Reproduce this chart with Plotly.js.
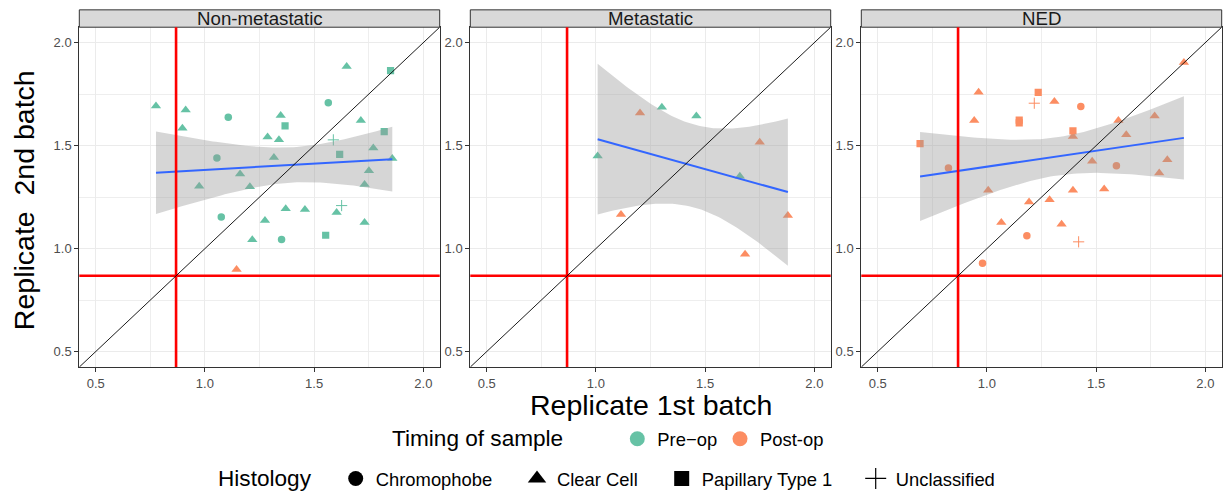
<!DOCTYPE html>
<html>
<head>
<meta charset="utf-8">
<script src="https://cdn.plot.ly/plotly-3.0.1.min.js"></script>
<style>html,body{margin:0;padding:0;background:#ffffff;}</style>
</head>
<body>
<div id="chart" style="width:1224px;height:497px;"></div>
<script>
// ---------------- data ----------------
const panelNames = ["Non-metastatic", "Metastatic", "NED"];
const timingLevels = ["pre", "post"];
const timingLabels = {pre: "Pre\u2212op", post: "Post-op"};
const histologyLevels = ["Ch", "CC", "P1", "U"];
const histologyLabels = {Ch: "Chromophobe", CC: "Clear Cell", P1: "Papillary Type 1", U: "Unclassified"};
const tickValues = [0.5, 1.0, 1.5, 2.0];
const tickLabels = ["0.5", "1.0", "1.5", "2.0"];
const minorBreaks = [0.75, 1.25, 1.75];
const axisLimits = [0.5, 2.0];
const cutoff = 0.868;

// Non-metastatic
const nonMetX = [0.776,0.912,0.897,1.347,1.287,1.339,1.649,1.714,1.771,1.858,1.751,1.731,1.316,1.161,0.974,1.206,1.370,1.458,1.603,1.275,1.731,1.217,
                 1.145,
                 1.107,1.565,1.055,1.075,1.351,
                 1.850,1.367,1.821,1.617,1.553,
                 1.588,1.626];
const nonMetY = [1.692,1.673,1.585,1.646,1.542,1.528,1.884,1.622,1.489,1.437,1.378,1.311,1.442,1.362,1.303,1.301,1.194,1.190,1.175,1.137,1.127,1.043,
                 0.899,
                 1.638,1.708,1.440,1.154,1.044,
                 1.864,1.596,1.568,1.458,1.065,
                 1.528,1.209];
const nonMetTiming = ["pre","pre","pre","pre","pre","pre","pre","pre","pre","pre","pre","pre","pre","pre","pre","pre","pre","pre","pre","pre","pre","pre",
                      "post",
                      "pre","pre","pre","pre","pre",
                      "pre","pre","pre","pre","pre",
                      "pre","pre"];
const nonMetHistology = ["CC","CC","CC","CC","CC","CC","CC","CC","CC","CC","CC","CC","CC","CC","CC","CC","CC","CC","CC","CC","CC","CC",
                         "CC",
                         "Ch","Ch","Ch","Ch","Ch",
                         "P1","P1","P1","P1","P1",
                         "U","U"];

// Metastatic
const metX = [1.008,1.302,1.460,1.659, 1.202,1.115,1.750,1.879,1.683];
const metY = [1.450,1.686,1.644,1.351, 1.659,1.166,1.517,1.161,0.973];
const metTiming = ["pre","pre","pre","pre", "post","post","post","post","post"];
const metHistology = ["CC","CC","CC","CC", "CC","CC","CC","CC","CC"];

// NED
const nedX = [0.694,1.235,1.148,1.148,1.394,
              0.824,1.430,1.593,1.183,0.980,
              1.217,1.420,
              0.962,0.942,1.309,1.394,1.602,1.638,1.768,1.902,1.482,1.826,1.789,1.006,1.394,1.537,1.193,1.287,1.066,1.342];
const nedY = [1.510,1.759,1.624,1.611,1.572,
              1.392,1.690,1.402,1.062,0.929,
              1.706,1.033,
              1.759,1.622,1.714,1.544,1.622,1.553,1.644,1.904,1.424,1.432,1.367,1.284,1.284,1.290,1.226,1.237,1.127,1.118];
const nedTiming = ["post","post","post","post","post",
                   "post","post","post","post","post",
                   "post","post",
                   "post","post","post","post","post","post","post","post","post","post","post","post","post","post","post","post","post","post"];
const nedHistology = ["P1","P1","P1","P1","P1",
                      "Ch","Ch","Ch","Ch","Ch",
                      "U","U",
                      "CC","CC","CC","CC","CC","CC","CC","CC","CC","CC","CC","CC","CC","CC","CC","CC","CC","CC"];

const panelData = [
  {x: nonMetX, y: nonMetY, timing: nonMetTiming, hist: nonMetHistology},
  {x: metX, y: metY, timing: metTiming, hist: metHistology},
  {x: nedX, y: nedY, timing: nedTiming, hist: nedHistology}
];

// ---------------- styling ----------------
const W = 1224, H = 497;
const FONT = '"Liberation Sans", Arial, Helvetica, sans-serif';
const timingColors = {pre: "#66C2A5", post: "#FC8D62"};
const histSymbol = {Ch: "circle", CC: "triangle-up", P1: "square", U: "cross-thin-open"};
const histSize = {Ch: 7.5, CC: 9, P1: 7.2, U: 8};
const legendSize = {Ch: 15, CC: 16, P1: 15, U: 15};
const panelPx = [[79.3, 439.7], [470.3, 830.7], [861.3, 1221.7]];
const plotTopPx = 27.6, plotBottomPx = 372.3, stripTopPx = 10;
const span = axisLimits[1] - axisLimits[0];
const axRange = [axisLimits[0] - 0.05 * span, axisLimits[1] + 0.05 * span];
const timingRowPx = 445, histRowPx = 485.5;

// ---------------- linear model with 95% CI ----------------
function tQuantile975(df) {
  const z = 1.959963985, z3 = z*z*z, z5 = z3*z*z, z7 = z5*z*z, z9 = z7*z*z;
  return z + (z3 + z) / (4*df)
    + (5*z5 + 16*z3 + 3*z) / (96*df*df)
    + (3*z7 + 19*z5 + 17*z3 - 15*z) / (384*Math.pow(df,3))
    + (79*z9 + 776*z7 + 1482*z5 - 1920*z3 - 945*z) / (92160*Math.pow(df,4));
}
function lmBand(xs, ys) {
  const n = xs.length;
  const mx = xs.reduce((a,b)=>a+b,0)/n, my = ys.reduce((a,b)=>a+b,0)/n;
  let sxx = 0, sxy = 0;
  for (let i = 0; i < n; i++) { sxx += (xs[i]-mx)*(xs[i]-mx); sxy += (xs[i]-mx)*(ys[i]-my); }
  const b = sxy / sxx, a = my - b*mx;
  let sse = 0;
  for (let i = 0; i < n; i++) { const r = ys[i] - (a + b*xs[i]); sse += r*r; }
  const s = Math.sqrt(sse / (n - 2));
  const t = tQuantile975(n - 2);
  const xmin = Math.min(...xs), xmax = Math.max(...xs);
  const gx = [], fit = [], lo = [], hi = [];
  const m = 80;
  for (let k = 0; k < m; k++) {
    const xv = xmin + (xmax - xmin) * k / (m - 1);
    const f = a + b*xv;
    const se = s * Math.sqrt(1/n + (xv-mx)*(xv-mx)/sxx);
    gx.push(xv); fit.push(f); lo.push(f - t*se); hi.push(f + t*se);
  }
  return {gx, fit, lo, hi};
}

// ---------------- traces ----------------
const traces = [];
panelData.forEach((p, i) => {
  const xa = i === 0 ? "x" : "x" + (i+1);
  const ya = i === 0 ? "y" : "y" + (i+1);
  timingLevels.forEach(tm => {
    histologyLevels.forEach(h => {
      const xs = [], ys = [];
      p.x.forEach((v, k) => { if (p.timing[k] === tm && p.hist[k] === h) { xs.push(v); ys.push(p.y[k]); } });
      if (!xs.length) return;
      traces.push({
        type: "scatter", mode: "markers", x: xs, y: ys, xaxis: xa, yaxis: ya,
        showlegend: false, hoverinfo: "x+y",
        marker: {symbol: histSymbol[h], size: histSize[h], color: timingColors[tm],
                 line: {color: timingColors[tm], width: h === "U" ? 1 : 0}}
      });
    });
  });
  const band = lmBand(p.x, p.y);
  traces.push({
    type: "scatter", mode: "lines", xaxis: xa, yaxis: ya, showlegend: false, hoverinfo: "skip",
    x: band.gx.concat(band.gx.slice().reverse()),
    y: band.hi.concat(band.lo.slice().reverse()),
    fill: "toself", fillcolor: "rgba(153,153,153,0.4)", line: {width: 0}
  });
  traces.push({
    type: "scatter", mode: "lines", xaxis: xa, yaxis: ya, showlegend: false, hoverinfo: "skip",
    x: band.gx, y: band.fit, line: {color: "#3366FF", width: 2}
  });
});

// legend entries (one legend per key so positions match the reference)
const legendKeys = [
  {name: timingLabels.pre,  symbol: "circle", color: timingColors.pre,  size: 15, legend: "legend",  cx: 637.3, cy: timingRowPx},
  {name: timingLabels.post, symbol: "circle", color: timingColors.post, size: 15, legend: "legend2", cx: 740.0, cy: timingRowPx}
];
const histLegendPos = {Ch: 355.7, CC: 537.0, P1: 681.7, U: 875.7};
histologyLevels.forEach((h, k) => {
  legendKeys.push({name: histologyLabels[h], symbol: histSymbol[h], color: "#000000", size: legendSize[h],
                   legend: "legend" + (k + 3), cx: histLegendPos[h], cy: histRowPx});
});
const layoutLegends = {};
legendKeys.forEach(L => {
  traces.push({
    type: "scatter", mode: "markers", x: [null], y: [null], xaxis: "x", yaxis: "y",
    name: L.name, legend: L.legend, showlegend: true,
    marker: {symbol: L.symbol, size: L.size, color: L.color, line: {color: L.color, width: L.symbol.indexOf("cross") === 0 ? 1.2 : 0}}
  });
  layoutLegends[L.legend] = {
    x: (L.cx - 20) / W, xanchor: "left", y: 1 - L.cy / H, yanchor: "middle",
    orientation: "h", bgcolor: "rgba(0,0,0,0)", borderwidth: 0,
    font: {family: FONT, size: 18.4, color: "#000000"},
    itemclick: false, itemdoubleclick: false
  };
});

// ---------------- layout ----------------
const layout = Object.assign({
  width: W, height: H,
  margin: {l: 0, r: 0, t: 0, b: 0},
  paper_bgcolor: "#ffffff", plot_bgcolor: "#ffffff",
  font: {family: FONT},
  showlegend: true,
  annotations: [], shapes: []
}, layoutLegends);

const yDomain = [1 - plotBottomPx / H, 1 - plotTopPx / H];
panelNames.forEach((name, i) => {
  const sfx = i === 0 ? "" : String(i + 1);
  const common = {
    range: axRange, tickmode: "array", tickvals: tickValues, ticktext: tickLabels,
    ticks: "outside", ticklen: 4, tickwidth: 1, tickcolor: "#333333",
    tickfont: {family: FONT, size: 13, color: "#4D4D4D"},
    showgrid: true, gridcolor: "#EBEBEB", gridwidth: 1.1,
    minor: {tickmode: "array", tickvals: minorBreaks, showgrid: true, gridcolor: "#EEEEEE", gridwidth: 0.7, ticks: ""},
    showline: true, mirror: true, linecolor: "#333333", linewidth: 1,
    zeroline: false, fixedrange: true
  };
  layout["xaxis" + sfx] = Object.assign({}, common, {
    domain: [panelPx[i][0] / W, panelPx[i][1] / W], anchor: "y" + sfx
  });
  layout["yaxis" + sfx] = Object.assign({}, common, {
    domain: yDomain, anchor: "x" + sfx
  });
  const xref = "x" + sfx, yref = "y" + sfx;
  // strip
  layout.shapes.push({type: "rect", xref: "paper", yref: "paper",
    x0: panelPx[i][0] / W, x1: panelPx[i][1] / W, y0: 1 - plotTopPx / H, y1: 1 - stripTopPx / H,
    fillcolor: "#D9D9D9", line: {color: "#333333", width: 1}, layer: "above"});
  layout.annotations.push({xref: "paper", yref: "paper",
    x: (panelPx[i][0] + panelPx[i][1]) / 2 / W, y: 1 - (plotTopPx + stripTopPx) / 2 / H,
    xanchor: "center", yanchor: "middle", showarrow: false, text: name,
    font: {family: FONT, size: 18.7, color: "#1A1A1A"}});
  // reference lines
  layout.shapes.push({type: "line", xref: xref, yref: yref + " domain", x0: cutoff, x1: cutoff, y0: 0, y1: 1,
    line: {color: "#FF0000", width: 2.6}, layer: "above"});
  layout.shapes.push({type: "line", xref: xref + " domain", yref: yref, x0: 0, x1: 1, y0: cutoff, y1: cutoff,
    line: {color: "#FF0000", width: 2.6}, layer: "above"});
  layout.shapes.push({type: "line", xref: xref, yref: yref, x0: axRange[0], y0: axRange[0], x1: axRange[1], y1: axRange[1],
    line: {color: "#000000", width: 0.9}, layer: "above"});
});

// axis titles and legend titles
layout.annotations.push({xref: "paper", yref: "paper", x: 650.5 / W, y: 1 - 410.5 / H,
  xanchor: "center", yanchor: "middle", showarrow: false, text: "Replicate 1st batch",
  font: {family: FONT, size: 28.5, color: "#000000"}});
layout.annotations.push({xref: "paper", yref: "paper", x: 24 / W, y: 1 - 203 / H,
  xanchor: "center", yanchor: "middle", showarrow: false, textangle: -90, text: "Replicate\u00A0 2nd batch",
  font: {family: FONT, size: 28.5, color: "#000000"}});
layout.annotations.push({xref: "paper", yref: "paper", x: 389.5 / W, y: 1 - timingRowPx / H,
  xanchor: "left", yanchor: "middle", showarrow: false, text: "Timing of sample",
  font: {family: FONT, size: 22.6, color: "#000000"}});
layout.annotations.push({xref: "paper", yref: "paper", x: 216 / W, y: 1 - histRowPx / H,
  xanchor: "left", yanchor: "middle", showarrow: false, text: "Histology",
  font: {family: FONT, size: 22.6, color: "#000000"}});

Plotly.newPlot("chart", traces, layout, {displayModeBar: false, staticPlot: false, responsive: false});
</script>
</body>
</html>
